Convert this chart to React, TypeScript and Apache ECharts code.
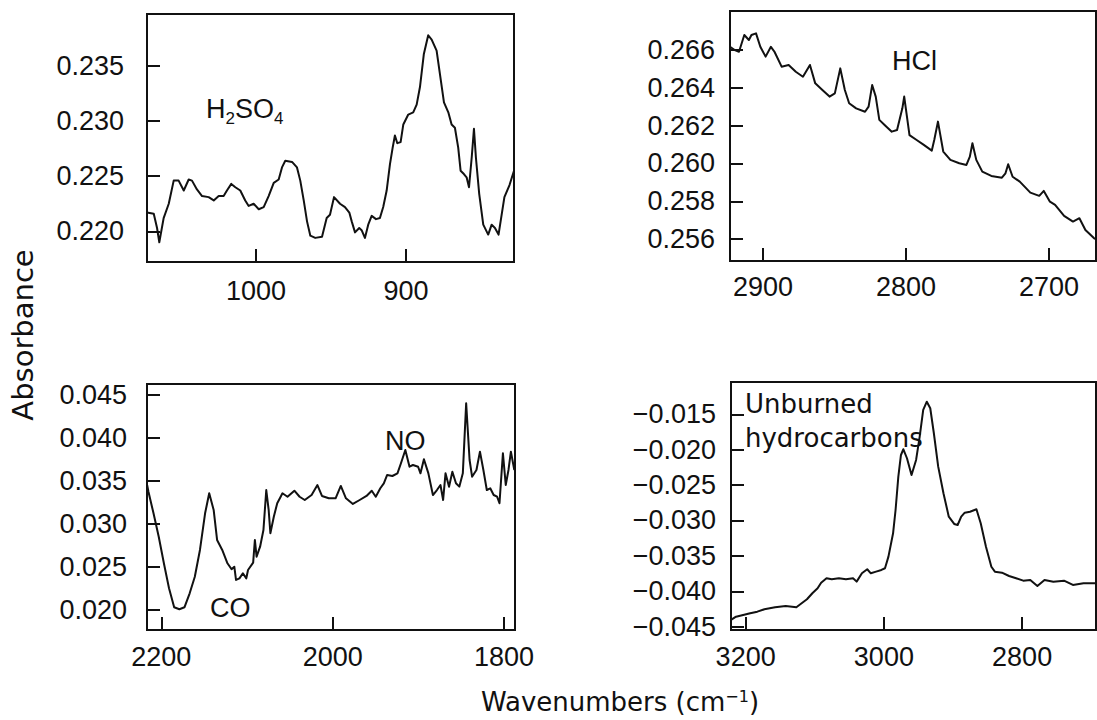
import React, { useEffect, useRef } from "react";
import * as echarts from "echarts";

// ---------- Data ----------
// H2SO4 panel (top-left)
const h2so4Wavenumber = [1072.7, 1068.2, 1066.0, 1064.5, 1061.6, 1058.2, 1054.9, 1051.6, 1048.2, 1044.9, 1042.7, 1039.4, 1036.0, 1031.6, 1028.2, 1024.9, 1021.6, 1019.4, 1016.5, 1013.8, 1010.5, 1007.2, 1004.9, 1001.6, 998.2, 994.9, 991.6, 988.2, 984.9, 982.7, 980.5, 976.0, 972.7, 970.5, 968.2, 966.0, 963.8, 960.5, 956.0, 952.9, 950.7, 948.0, 944.0, 940.7, 937.8, 936.2, 934.0, 931.2, 929.6, 927.4, 925.2, 922.9, 920.0, 917.4, 915.2, 912.9, 910.7, 908.9, 907.4, 905.8, 903.6, 901.8, 898.5, 895.2, 892.9, 890.7, 888.1, 885.2, 882.9, 879.6, 877.4, 874.7, 871.8, 869.6, 867.4, 865.2, 863.6, 861.4, 859.6, 858.0, 856.2, 854.7, 853.4, 851.2, 848.5, 845.2, 842.9, 840.7, 838.3, 834.4, 831.0, 828.0];
const h2so4Absorbance = [0.2217, 0.2216, 0.2203, 0.2190, 0.2212, 0.2225, 0.2246, 0.2246, 0.2237, 0.2247, 0.2246, 0.2238, 0.2232, 0.2231, 0.2228, 0.2232, 0.2232, 0.2237, 0.2243, 0.2240, 0.2237, 0.2228, 0.2223, 0.2225, 0.2220, 0.2222, 0.2232, 0.2244, 0.2247, 0.2258, 0.2264, 0.2263, 0.2258, 0.2246, 0.2228, 0.2209, 0.2196, 0.2194, 0.2195, 0.2212, 0.2215, 0.2231, 0.2225, 0.2222, 0.2217, 0.2209, 0.2199, 0.2203, 0.2201, 0.2194, 0.2206, 0.2214, 0.2211, 0.2212, 0.2222, 0.2237, 0.2261, 0.2276, 0.2287, 0.2280, 0.2281, 0.2297, 0.2306, 0.2308, 0.2315, 0.2331, 0.2361, 0.2378, 0.2374, 0.2364, 0.2343, 0.2317, 0.2308, 0.2297, 0.2294, 0.2276, 0.2255, 0.2252, 0.2249, 0.2240, 0.2267, 0.2293, 0.2267, 0.2234, 0.2206, 0.2197, 0.2206, 0.2203, 0.2197, 0.2231, 0.2242, 0.2255];

// HCl panel (top-right)
const hclWavenumber = [2923.1, 2919.8, 2916.8, 2913.1, 2909.9, 2908.1, 2904.9, 2901.9, 2898.2, 2894.5, 2892.0, 2887.0, 2882.1, 2877.1, 2872.1, 2867.2, 2863.5, 2858.5, 2853.5, 2849.8, 2846.0, 2842.8, 2839.8, 2834.9, 2828.7, 2826.2, 2823.7, 2821.2, 2818.7, 2815.0, 2810.0, 2806.3, 2802.6, 2801.3, 2797.6, 2792.6, 2787.6, 2782.0, 2780.3, 2777.7, 2774.0, 2769.0, 2762.8, 2757.8, 2755.4, 2753.6, 2750.9, 2746.7, 2740.4, 2733.0, 2730.5, 2728.6, 2725.5, 2720.5, 2713.1, 2706.9, 2703.7, 2699.4, 2695.8, 2689.5, 2683.3, 2678.8, 2674.6, 2668.5, 2667.2];
const hclAbsorbance = [0.26616, 0.26599, 0.2659, 0.26678, 0.26652, 0.26678, 0.26687, 0.26616, 0.26564, 0.26616, 0.2659, 0.26511, 0.2652, 0.26484, 0.26458, 0.2652, 0.26423, 0.26388, 0.26353, 0.2637, 0.26502, 0.26388, 0.26318, 0.26291, 0.26273, 0.263, 0.26414, 0.26353, 0.2623, 0.26203, 0.26168, 0.26177, 0.26291, 0.26353, 0.2615, 0.26124, 0.26098, 0.26068, 0.26124, 0.26221, 0.26063, 0.26019, 0.26001, 0.25992, 0.26036, 0.26107, 0.26019, 0.25957, 0.25934, 0.25925, 0.25948, 0.25996, 0.2593, 0.25904, 0.25846, 0.25829, 0.25855, 0.25798, 0.25781, 0.25723, 0.25693, 0.25711, 0.25649, 0.25605, 0.25600];

// CO / NO panel (bottom-left)
const coWavenumber = [2216.5, 2215.0, 2209.1, 2203.0, 2197.0, 2191.0, 2185.0, 2178.9, 2173.0, 2166.9, 2160.9, 2154.9, 2148.9, 2144.1, 2138.9, 2134.9, 2128.9, 2122.8, 2118.0, 2114.8, 2112.8, 2108.8, 2104.8, 2100.8, 2098.8, 2092.8, 2090.8, 2088.8, 2084.7, 2080.8, 2077.5, 2074.7, 2072.7, 2068.7, 2064.7, 2060.7, 2058.6, 2052.7, 2044.7, 2038.6, 2032.6, 2024.6, 2017.8, 2012.5, 2004.5, 1996.6, 1990.5, 1984.5, 1976.4, 1968.5, 1960.5, 1954.4, 1949.7, 1944.4, 1940.3, 1936.4, 1930.3, 1924.4, 1920.3, 1915.2, 1910.3, 1906.3, 1900.3, 1897.5, 1893.5, 1888.3, 1883.0, 1878.3, 1874.2, 1871.1, 1868.3, 1864.2, 1860.3, 1856.1, 1852.2, 1848.1, 1844.2, 1840.2, 1837.3, 1832.2, 1828.1, 1824.1, 1820.1, 1816.1, 1812.1, 1808.1, 1805.3, 1801.3, 1798.0, 1794.8, 1792.0, 1788.0];
const coAbsorbance = [0.0345, 0.03376, 0.03124, 0.02852, 0.02543, 0.02252, 0.02031, 0.02008, 0.02031, 0.02194, 0.02387, 0.02698, 0.03124, 0.03357, 0.03163, 0.02814, 0.02698, 0.02543, 0.02473, 0.02503, 0.02349, 0.02368, 0.02427, 0.02368, 0.02465, 0.0255, 0.02814, 0.0262, 0.02736, 0.0293, 0.03395, 0.03163, 0.02892, 0.03085, 0.03241, 0.03317, 0.03357, 0.03317, 0.03387, 0.03317, 0.03279, 0.03337, 0.03453, 0.03326, 0.03299, 0.03299, 0.03442, 0.03299, 0.03233, 0.03279, 0.03326, 0.03387, 0.03317, 0.03415, 0.03473, 0.0357, 0.03558, 0.03589, 0.03706, 0.0386, 0.03666, 0.03686, 0.03666, 0.03589, 0.03752, 0.03589, 0.03337, 0.03395, 0.03453, 0.03279, 0.03589, 0.03434, 0.03608, 0.03473, 0.03434, 0.03589, 0.04403, 0.03744, 0.0355, 0.03628, 0.03841, 0.03628, 0.03395, 0.03415, 0.03337, 0.03317, 0.03241, 0.03822, 0.03453, 0.03628, 0.03841, 0.03628];

// Unburned hydrocarbons panel (bottom-right)
const hcWavenumber = [3221.2, 3213.9, 3203.6, 3193.4, 3183.1, 3172.9, 3157.4, 3142.1, 3126.6, 3119.0, 3111.3, 3103.5, 3095.9, 3090.8, 3083.0, 3075.4, 3065.1, 3054.9, 3044.6, 3039.4, 3031.8, 3024.1, 3018.9, 3011.3, 3003.6, 2998.4, 2993.4, 2986.7, 2983.1, 2979.1, 2975.3, 2971.8, 2966.6, 2960.0, 2953.4, 2948.2, 2943.1, 2937.9, 2932.9, 2927.7, 2921.4, 2913.8, 2906.1, 2898.3, 2893.3, 2888.1, 2883.0, 2875.4, 2866.1, 2859.9, 2852.3, 2844.5, 2839.4, 2829.2, 2818.9, 2808.7, 2798.4, 2788.2, 2777.9, 2767.6, 2754.8, 2739.4, 2726.5, 2711.2, 2693.1];
const hcAbsorbance = [-0.04405, -0.04359, -0.04335, -0.04311, -0.04288, -0.04254, -0.04226, -0.04208, -0.04226, -0.0417, -0.04113, -0.04028, -0.03958, -0.03879, -0.03816, -0.0383, -0.03816, -0.0383, -0.03816, -0.03864, -0.03746, -0.03689, -0.03746, -0.03723, -0.03699, -0.03675, -0.03511, -0.03181, -0.02852, -0.02381, -0.02075, -0.01994, -0.02121, -0.02357, -0.02145, -0.01816, -0.01439, -0.01322, -0.01415, -0.01768, -0.0224, -0.02616, -0.02946, -0.03049, -0.03064, -0.02946, -0.0289, -0.02876, -0.02842, -0.0304, -0.0337, -0.03653, -0.03723, -0.03737, -0.03784, -0.03816, -0.0385, -0.0384, -0.03925, -0.0384, -0.03864, -0.0385, -0.03911, -0.03887, -0.03887];

// Tick labels
const h2so4XTicks = [1000, 900];
const h2so4YTicks = [0.22, 0.225, 0.23, 0.235];
const hclXTicks = [2900, 2800, 2700];
const hclYTicks = [0.256, 0.258, 0.26, 0.262, 0.264, 0.266];
const coXTicks = [2200, 2000, 1800];
const coYTicks = [0.02, 0.025, 0.03, 0.035, 0.04, 0.045];
const hcXTicks = [3200, 3000, 2800];
const hcYTicks = [-0.045, -0.04, -0.035, -0.03, -0.025, -0.02, -0.015];

const INK = "#111";
const TICK_FONT = "Liberation Sans";

function fmtY(v: number) {
  return v.toFixed(3).replace("-", "\u2212");
}

function xAxisOf(gridIndex: number, min: number, max: number, ticks: number[], margin: number) {
  return {
    type: "value",
    gridIndex,
    inverse: true,
    min,
    max,
    axisLine: { show: false },
    splitLine: { show: false },
    axisTick: { show: true, inside: true, length: 13, lineStyle: { color: INK, width: 2 }, customValues: ticks },
    axisLabel: {
      show: true,
      customValues: ticks,
      margin,
      color: INK,
      fontSize: 27,
      fontFamily: TICK_FONT,
      formatter: (v: number) => String(Math.round(v)),
    },
  };
}

function yAxisOf(gridIndex: number, min: number, max: number, ticks: number[], margin: number) {
  return {
    type: "value",
    gridIndex,
    min,
    max,
    axisLine: { show: false },
    splitLine: { show: false },
    axisTick: { show: true, inside: true, length: 13, lineStyle: { color: INK, width: 2 }, customValues: ticks },
    axisLabel: {
      show: true,
      customValues: ticks,
      margin,
      color: INK,
      fontSize: 27,
      fontFamily: TICK_FONT,
      formatter: (v: number) => fmtY(v),
    },
  };
}

function lineSeries(idx: number, xs: number[], ys: number[]) {
  return {
    type: "line",
    xAxisIndex: idx,
    yAxisIndex: idx,
    data: xs.map((x, i) => [x, ys[i]]),
    showSymbol: false,
    symbol: "none",
    lineStyle: { color: INK, width: 2, join: "round" },
    clip: true,
  };
}

const gridBase = { show: true, borderColor: INK, borderWidth: 2, backgroundColor: "transparent" };

export default function App() {
  const ref = useRef<HTMLDivElement>(null);
  useEffect(() => {
    if (!ref.current) return;
    const chart = echarts.init(ref.current, undefined, { renderer: "svg" });
    const option = {
      animation: false,
      backgroundColor: "#fff",
      grid: [
        { ...gridBase, left: 147, top: 14, width: 367, height: 248 },
        { ...gridBase, left: 730, top: 11, width: 366, height: 250 },
        { ...gridBase, left: 147, top: 384, width: 368, height: 246 },
        { ...gridBase, left: 731, top: 382, width: 365, height: 248 },
      ],
      xAxis: [
        xAxisOf(0, 828.0, 1072.7, h2so4XTicks, 15),
        xAxisOf(1, 2667.2, 2923.1, hclXTicks, 12),
        xAxisOf(2, 1787.2, 2216.7, coXTicks, 13),
        xAxisOf(3, 2693.1, 3221.2, hcXTicks, 13),
      ],
      yAxis: [
        yAxisOf(0, 0.21721, 0.23973, h2so4YTicks, 23),
        yAxisOf(1, 0.25485, 0.26805, hclYTicks, 15),
        yAxisOf(2, 0.01767, 0.04628, coYTicks, 20),
        yAxisOf(3, -0.04547, -0.01044, hcYTicks, 15),
      ],
      series: [
        lineSeries(0, h2so4Wavenumber, h2so4Absorbance),
        lineSeries(1, hclWavenumber, hclAbsorbance),
        lineSeries(2, coWavenumber, coAbsorbance),
        lineSeries(3, hcWavenumber, hcAbsorbance),
      ],
      graphic: [
        {
          type: "text",
          x: 206,
          y: 109,
          style: {
            text: "{m|H}{s|2}{m|SO}{s|4}",
            fill: INK,
            align: "left",
            verticalAlign: "middle",
            rich: {
              m: { fontSize: 27, fontFamily: TICK_FONT, lineHeight: 36, fill: INK },
              s: { fontSize: 17, fontFamily: TICK_FONT, lineHeight: 12, verticalAlign: "bottom", fill: INK },
            },
          },
        },
        {
          type: "text",
          x: 892,
          y: 61,
          style: { text: "HCl", fill: INK, font: `27px "${TICK_FONT}"`, align: "left", verticalAlign: "middle" },
        },
        {
          type: "text",
          x: 210,
          y: 608,
          style: { text: "CO", fill: INK, font: `27px "${TICK_FONT}"`, align: "left", verticalAlign: "middle" },
        },
        {
          type: "text",
          x: 385,
          y: 441,
          style: { text: "NO", fill: INK, font: `27px "${TICK_FONT}"`, align: "left", verticalAlign: "middle" },
        },
        {
          type: "text",
          x: 745,
          y: 387,
          style: {
            text: "Unburned\nhydrocarbons",
            fill: INK,
            font: '26px "DejaVu Sans"',
            lineHeight: 34,
            align: "left",
            verticalAlign: "top",
          },
        },
        {
          type: "text",
          x: 23,
          y: 335,
          rotation: Math.PI / 2,
          style: { text: "Absorbance", fill: INK, font: '29px "DejaVu Sans"', align: "center", verticalAlign: "middle" },
        },
        {
          type: "text",
          x: 620,
          y: 702,
          style: {
            text: "{m|Wavenumbers (cm}{s|\u22121}{m|)}",
            fill: INK,
            align: "center",
            verticalAlign: "middle",
            rich: {
              m: { fontSize: 26, fontFamily: "DejaVu Sans", lineHeight: 28, fill: INK },
              s: { fontSize: 16, fontFamily: "DejaVu Sans", lineHeight: 14, verticalAlign: "top", fill: INK },
            },
          },
        },
      ],
    };
    chart.setOption(option as any);
    return () => chart.dispose();
  }, []);
  return (
    <div
      ref={ref}
      style={{ position: "fixed", left: 0, top: 0, width: 1097, height: 720, background: "#fff" }}
    />
  );
}
